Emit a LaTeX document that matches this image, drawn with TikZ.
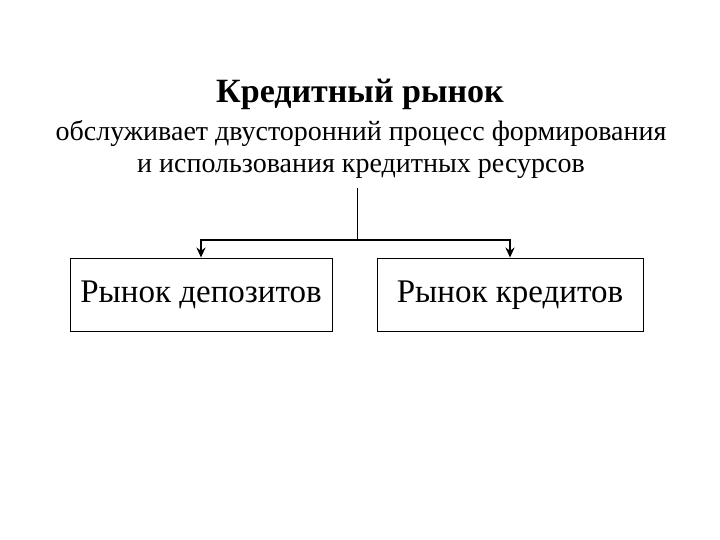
\documentclass[tikz,border=0pt]{standalone}
\usepackage{fontspec}
\setmainfont{Liberation Serif}
\usetikzlibrary{
	positioning,
	arrows.meta
}

\begin{document}
\begin{tikzpicture}[x=1pt,y=-1pt,
		market/.style={draw,line width=0.9pt,minimum width=262pt,minimum height=73pt,
			inner sep=0pt,text height=22pt,text depth=7pt,font=\fontsize{33}{36}\selectfont},
		branch/.style={line width=1.8pt,-{Stealth[length=10pt,width=9pt]}}]
		\useasboundingbox (0,0) rectangle (720,540);
		\draw
			node[font=\bfseries\fontsize{34}{38}\selectfont] (title) at (360,94) {Кредитный рынок}
			node[align=center,font=\fontsize{28}{32}\selectfont] (role) at (361,150)
				{обслуживает двусторонний процесс формирования\\и использования кредитных ресурсов}

			node[market]                         (deposits) at (201,294.5) {Рынок депозитов}
			node[market,minimum width=266pt]     (credits)  at (510,294.5) {Рынок кредитов}

			coordinate (stem)  at (357,188)
			coordinate (split) at (357,240)
		;
		\draw[line width=0.8pt] (stem) -- (split);
		\draw[branch] (split) -| (deposits.north);
		\draw[branch] (split) -| (credits.north);
	\end{tikzpicture}
\end{document}
